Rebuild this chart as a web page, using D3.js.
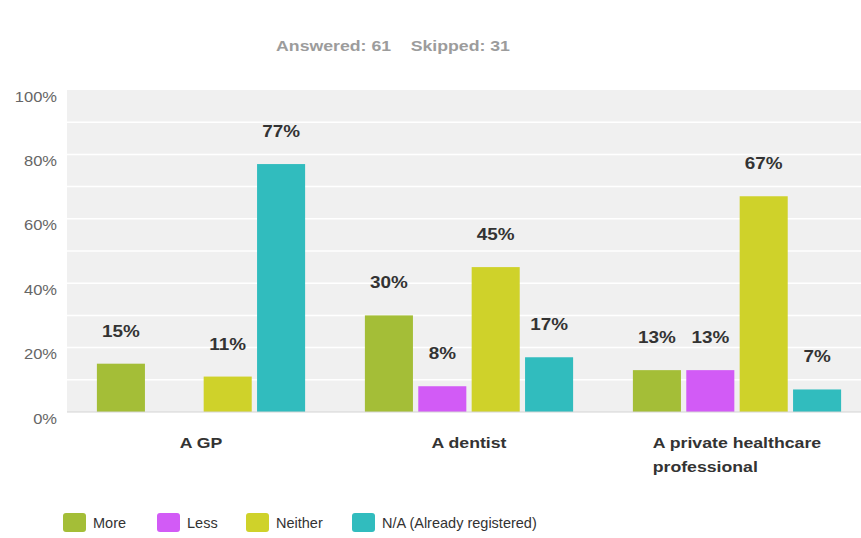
<!DOCTYPE html>
<html>
<head>
<meta charset="utf-8">
<script src="https://cdn.jsdelivr.net/npm/d3@7/dist/d3.min.js"></script>
<style>
  html, body { margin: 0; padding: 0; background: #fff; }
  svg { display: block; font-family: "Liberation Sans", Arial, Helvetica, sans-serif; }
</style>
</head>
<body>
<svg id="chart" width="861" height="538"></svg>
<script>
// Survey question: would you be more or less likely to register with...
const categories = ["A GP", "A dentist", "A private healthcare professional"];
const categoryLines = [["A GP"], ["A dentist"], ["A private healthcare", "professional"]];
const seriesNames = ["More", "Less", "Neither", "N/A (Already registered)"];
const seriesColors = ["#a4be37", "#d25bf6", "#cfd22a", "#31bcbe"];

// Percentages per series, one value per category
const moreValues    = [15, 30, 13];
const lessValues    = [0, 8, 13];
const neitherValues = [11, 45, 67];
const naValues      = [77, 17, 7];

const yTicks = [0, 20, 40, 60, 80, 100];
const gridValues = [10, 20, 30, 40, 50, 60, 70, 80, 90];
const summaryText = "Answered: 61    Skipped: 31";

const seriesValues = [moreValues, lessValues, neitherValues, naValues];

// Chart lettering is set slightly wide
const STRETCH = 1.18;

const svg = d3.select("#chart");
const plot = { left: 67, top: 90, right: 871, bottom: 412 };

const x0 = d3.scaleBand().domain(categories).range([plot.left, plot.right]).padding(0);
const x1 = d3.scaleBand().domain(seriesNames).range([0, x0.bandwidth()])
  .paddingInner(0.1).paddingOuter(0.56);
const y = d3.scaleLinear().domain([0, 100]).range([plot.bottom, plot.top]);

// Place a text at (x, y) and widen it horizontally around its anchor
function placeWide(sel, x, y, s) {
  sel.attr("x", 0).attr("y", 0)
    .attr("transform", `translate(${x},${y}) scale(${s},1)`);
}

// Response summary
svg.append("text")
  .attr("text-anchor", "middle")
  .attr("fill", "#9c9c9c")
  .attr("font-size", 15)
  .attr("font-weight", "bold")
  .style("white-space", "pre")
  .text(summaryText)
  .call(placeWide, 393, 51, STRETCH);

// Plot background
svg.append("rect")
  .attr("x", plot.left).attr("y", plot.top)
  .attr("width", plot.right - plot.left).attr("height", plot.bottom - plot.top)
  .attr("fill", "#f0f0f0");

// Horizontal grid
svg.append("g")
  .selectAll("line")
  .data(gridValues)
  .join("line")
  .attr("x1", plot.left).attr("x2", plot.right)
  .attr("y1", d => y(d)).attr("y2", d => y(d))
  .attr("stroke", "#ffffff").attr("stroke-width", 1.5);

// Y axis labels
const yAxis = d3.axisLeft(y).tickValues(yTicks).tickFormat(d => d + "%").tickSize(0).tickPadding(10);
const yAxisG = svg.append("g").attr("transform", `translate(${plot.left},0)`).call(yAxis);
yAxisG.select(".domain").remove();
yAxisG.selectAll("text")
  .attr("fill", "#666")
  .attr("font-size", 14)
  .attr("font-family", "Liberation Sans, Arial, sans-serif")
  .attr("dy", null)
  .each(function () {
    d3.select(this).call(placeWide, -10, 11, STRETCH);
  });

// Bars
const groups = svg.append("g")
  .selectAll("g")
  .data(categories)
  .join("g")
  .attr("transform", d => `translate(${x0(d)},0)`);

const cells = groups.selectAll("g")
  .data((c, ci) => seriesNames.map((s, si) => ({ series: s, si, value: seriesValues[si][ci] })))
  .join("g");

cells.append("rect")
  .attr("x", d => x1(d.series))
  .attr("y", d => y(d.value))
  .attr("width", x1.bandwidth())
  .attr("height", d => y(0) - y(d.value))
  .attr("fill", d => seriesColors[d.si]);

cells.filter(d => d.value > 0)
  .append("text")
  .attr("text-anchor", "middle")
  .attr("fill", "#333")
  .attr("font-size", 16)
  .attr("font-weight", "bold")
  .text(d => d.value + "%")
  .each(function (d) {
    d3.select(this).call(placeWide, x1(d.series) + x1.bandwidth() / 2, y(d.value) - 27, STRETCH);
  });

// Baseline
svg.append("line")
  .attr("x1", plot.left).attr("x2", plot.right)
  .attr("y1", y(0)).attr("y2", y(0))
  .attr("stroke", "#d4d4d4").attr("stroke-width", 1);

// Category labels: block centered under its group, lines left-aligned
const catG = svg.append("g");
categories.forEach((c, i) => {
  const lines = categoryLines[i];
  const cx = x0(c) + x0.bandwidth() / 2;
  const t = catG.append("text")
    .attr("fill", "#333")
    .attr("font-size", 15)
    .attr("font-weight", "bold");
  lines.forEach((ln, li) => {
    t.append("tspan").attr("x", 0).attr("y", li * 24).text(ln);
  });
  if (lines.length > 1) {
    const widest = d3.max(t.selectAll("tspan").nodes(), n => n.getComputedTextLength()) * STRETCH;
    t.attr("transform", `translate(${cx - widest / 2},448) scale(${STRETCH},1)`);
  } else {
    t.attr("text-anchor", "middle")
      .attr("transform", `translate(${cx},448) scale(${STRETCH},1)`);
  }
});

// Legend
const legendX = [63, 157, 246, 352];
const legend = svg.append("g")
  .selectAll("g")
  .data(seriesNames)
  .join("g")
  .attr("transform", (d, i) => `translate(${legendX[i]},513)`);
legend.append("rect")
  .attr("width", 23).attr("height", 19)
  .attr("rx", 3).attr("ry", 3)
  .attr("fill", (d, i) => seriesColors[i]);
legend.append("text")
  .attr("x", 30).attr("y", 14.5)
  .attr("fill", "#333")
  .attr("font-size", 14.5)
  .text(d => d);
</script>
</body>
</html>
